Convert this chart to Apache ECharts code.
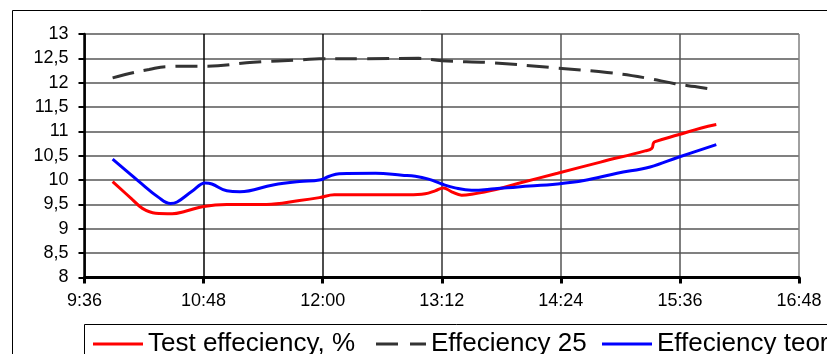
<!DOCTYPE html>
<html><head><meta charset="utf-8">
<script src="https://cdn.jsdelivr.net/npm/echarts@6/dist/echarts.min.js"></script>
<style>html,body{margin:0;padding:0;background:#fff;overflow:hidden}#c{width:827px;height:354px}</style>
</head><body><div id="c"></div>
<script>
const seriesNames = ["Test effeciency, %", "Effeciency 25", "Effeciency teor"];
const xTickLabels = ["9:36","10:48","12:00","13:12","14:24","15:36","16:48"];
const yTicks = [8,8.5,9,9.5,10,10.5,11,11.5,12,12.5,13];

const testTimes = ["9:53","10:05","10:11","10:19","10:29","10:37","10:48","11:02","11:26","11:46","11:58","12:07","12:32","12:52","13:02","13:08","13:13","13:18","13:24","13:30","13:44","13:58","14:22","14:48","15:15","15:19","15:20","15:21","15:35","15:49","15:58"];
const testValues = [9.97,9.6,9.42,9.32,9.31,9.36,9.46,9.5,9.5,9.58,9.64,9.7,9.7,9.7,9.72,9.78,9.84,9.76,9.69,9.71,9.8,9.93,10.14,10.37,10.6,10.65,10.76,10.79,10.93,11.07,11.14];

const eff25Times = ["9:53","10:06","10:15","10:25","10:44","10:50","11:18","11:48","11:58","12:24","12:58","13:12","13:42","14:22","14:52","15:15","15:33","15:45","15:56"];
const eff25Values = [12.1,12.21,12.27,12.33,12.34,12.34,12.42,12.47,12.49,12.49,12.5,12.45,12.41,12.3,12.21,12.1,11.98,11.92,11.86];

const teorTimes = ["9:53","10:09","10:21","10:28","10:32","10:41","10:49","10:53","11:02","11:10","11:30","11:46","11:58","12:04","12:10","12:32","12:48","12:56","13:04","13:12","13:20","13:30","13:44","13:58","14:22","14:38","14:58","15:18","15:35","15:58"];
const teorValues = [10.43,9.97,9.64,9.52,9.55,9.77,9.94,9.92,9.78,9.76,9.9,9.97,10.0,10.08,10.13,10.14,10.1,10.08,10.02,9.92,9.84,9.79,9.82,9.86,9.92,9.99,10.14,10.27,10.47,10.73];

function toMin(s){const p=s.split(":");return (+p[0])*60+(+p[1]);}
function pairs(ts,vs){return ts.map((t,i)=>[toMin(t),vs[i]]);}
function fmt(m){const h=Math.floor(m/60),mm=Math.round(m%60);return h+":"+(mm<10?"0":"")+mm;}

const xMin = toMin(xTickLabels[0]), xMax = toMin(xTickLabels[xTickLabels.length-1]);
const xInt = toMin(xTickLabels[1]) - xMin;

const chart = echarts.init(document.getElementById('c'), null, {renderer:'canvas'});
const font = 'Liberation Sans, Arial, sans-serif';
const legendBase = {top:331, padding:0, itemWidth:50, itemHeight:3, textStyle:{fontFamily:font,fontSize:26,color:'#000'}};
chart.setOption({
  animation:false,
  backgroundColor:'#fff',
  graphic:[
    {type:'rect', shape:{x:12.5,y:10.5,width:900,height:400}, style:{fill:'none',stroke:'#000',lineWidth:1}, silent:true},
    {type:'rect', shape:{x:84.5,y:324.5,width:900,height:100}, style:{fill:'none',stroke:'#000',lineWidth:1}, silent:true}
  ],
  grid:{left:84.5, top:34, right:28, bottom:76.5, containLabel:false},
  legend:[
    Object.assign({}, legendBase, {data:[{name:seriesNames[0], icon:'rect'}], left:93}),
    Object.assign({}, legendBase, {data:[{name:seriesNames[1], icon:'path://M0,0h22v3h-22z M34,0h16v3h-16z'}], left:376}),
    Object.assign({}, legendBase, {data:[{name:seriesNames[2], icon:'rect'}], left:602})
  ],
  xAxis:{
    type:'value', min:xMin, max:xMax, interval:xInt,
    axisLine:{lineStyle:{color:'#000',width:3}},
    axisTick:{show:true, length:6, lineStyle:{color:'#000',width:3}},
    axisLabel:{formatter:v=>fmt(v), fontFamily:font, fontSize:18, color:'#000', margin:15},
    splitLine:{show:true, lineStyle:{color:['#000','#000','#111','#333','#555','#555','#808080'], width:1.5}}
  },
  yAxis:{
    type:'value', min:yTicks[0], max:yTicks[yTicks.length-1], interval:yTicks[1]-yTicks[0],
    axisLine:{show:true, lineStyle:{color:'#000',width:2.5}},
    axisTick:{show:true, length:6, lineStyle:{color:'#000',width:2}},
    axisLabel:{formatter:v=>String(v).replace('.',','), fontFamily:font, fontSize:18, color:'#000', margin:16},
    splitLine:{show:true, lineStyle:{color:'#808080', width:2}}
  },
  series:[
    {name:seriesNames[0], type:'line', data:pairs(testTimes,testValues), symbol:'none', showSymbol:false, smooth:0.4,
     lineStyle:{color:'#ff0000', width:3}, itemStyle:{color:'#ff0000'}, z:3},
    {name:seriesNames[1], type:'line', data:pairs(eff25Times,eff25Values), symbol:'none', showSymbol:false, smooth:0.4,
     lineStyle:{color:'#333', width:3, type:[22,10]}, itemStyle:{color:'#333'}, z:2},
    {name:seriesNames[2], type:'line', data:pairs(teorTimes,teorValues), symbol:'none', showSymbol:false, smooth:0.4,
     lineStyle:{color:'#0000ff', width:3}, itemStyle:{color:'#0000ff'}, z:4}
  ]
});
</script></body></html>
